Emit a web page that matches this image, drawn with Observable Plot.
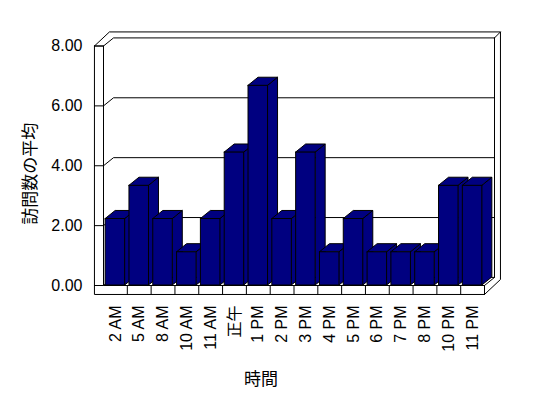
<!DOCTYPE html>
<html>
<head>
<meta charset="utf-8">
<script src="https://cdn.jsdelivr.net/npm/d3@7"></script>
<script src="https://cdn.jsdelivr.net/npm/@observablehq/plot@0.6"></script>
<style>
  html, body { margin: 0; padding: 0; background: #fff; }
</style>
</head>
<body>
<div id="chart"></div>
<script>
// ---- data ----
const categories = ["2 AM","5 AM","8 AM","10 AM","11 AM","正午","1 PM","2 PM","3 PM","4 PM","5 PM","6 PM","7 PM","8 PM","10 PM","11 PM"];
const values = [2.22,3.33,2.22,1.11,2.22,4.44,6.67,2.22,4.44,1.11,2.22,1.11,1.11,1.11,3.33,3.33];
const yTicks = [0, 2, 4, 6, 8];
const xTitle = "時間";
const yTitle = "訪問数の平均";

// ---- 3D look (data units) ----
const n = categories.length;
const yMax = yTicks[yTicks.length - 1];
const DU = 0.42, DV = 0.27;   // depth of the box
const TU = 0.38, TV = 0.30;   // wall / floor thickness
const OU = 0.67, OV = 0.47;   // outer back edge of the walls
const INSET = 0.09;

const bars = values.map((v, i) => ({ i, v, x1: i + INSET, x2: i + 1 - INSET }));
const tops = bars.flatMap(b => [
  { id: b.i, y: b.v, x1: b.x1, x2: b.x2 },
  { id: b.i, y: b.v + DV, x1: b.x1 + DU, x2: b.x2 + DU }
]);
const sides = bars.flatMap(b => [
  { id: b.i, x: b.x2, y1: 0, y2: b.v },
  { id: b.i, x: b.x2 + DU, y1: DV, y2: b.v + DV }
]);

const segs = [];
const path = (id, pts) => pts.forEach(([x, y]) => segs.push({ id, x, y }));
// back wall grid lines + ticks
yTicks.forEach(v => path("g" + v, [[-TU, v], [0, v], [DU, v + DV], [n + DU, v + DV]]));
// right inner edge of the box
path("ri", [[n + DU, yMax + DV], [n + DU, DV], [n, 0]]);
// outer walls
path("out", [[-TU, yMax], [OU - TU - 0.04, yMax + OV], [n + OU, yMax + OV], [n + OU, DV - 0.07], [n, -TV]]);
path("tr", [[n + DU, yMax + DV], [n + OU, yMax + OV]]);
const front = [];
const fpath = (id, pts) => pts.forEach(([x, y]) => front.push({ id, x, y }));
fpath("oL", [[-TU, yMax], [-TU, -TV], [n, -TV], [n, 0]]);
fpath("iL", [[0, yMax], [0, 0], [n, 0]]);
fpath("st", [[-TU, yMax], [0, yMax]]);
for (let i = 1; i <= n; i++) fpath("t" + i, [[i, 0], [i, -TV]]);

const navy = "#000080";
const chart = Plot.plot({
  width: 548,
  height: 398,
  marginLeft: 103,
  marginRight: 64,
  marginTop: 45.5,
  marginBottom: 113,
  x: { type: "linear", domain: [0, n] },
  y: { domain: [0, yMax] },
  style: { fontFamily: "'Liberation Sans', Arial, 'Noto Sans CJK JP', sans-serif", fontSize: "16px", background: "#fff", color: "#000" },
  marks: [
    Plot.line(segs, { x: "x", y: "y", z: "id", stroke: "#000", strokeWidth: 1 }),
    Plot.areaY(sides, { x: "x", y1: "y1", y2: "y2", z: "id", fill: navy, stroke: "#000", strokeWidth: 1 }),
    Plot.areaX(tops, { y: "y", x1: "x1", x2: "x2", z: "id", fill: navy, stroke: "#000", strokeWidth: 1 }),
    Plot.rect(bars, { x1: "x1", x2: "x2", y1: 0, y2: "v", fill: navy, stroke: "#000", strokeWidth: 1 }),
    Plot.line(front, { x: "x", y: "y", z: "id", stroke: "#000", strokeWidth: 1 }),
    Plot.axisY(yTicks, { tickFormat: d3.format(".2f"), tickSize: 0, tickPadding: 21, fontSize: 16, label: null }),
    Plot.axisX(categories.map((c, i) => i + 0.5), {
      tickFormat: d => categories[Math.round(d - 0.5)],
      tickRotate: -90, tickSize: 0, tickPadding: 20, fontSize: 16, label: null
    }),
    Plot.text([xTitle], { text: d => d, frameAnchor: "bottom", dx: -33, dy: 99, fontSize: 17, fontFamily: "'Noto Sans CJK JP', sans-serif" }),
    Plot.text([yTitle], { text: d => d, frameAnchor: "left", textAnchor: "middle", rotate: -90, dx: -73, dy: 8, fontSize: 17, fontFamily: "'Noto Sans CJK JP', sans-serif" })
  ]
});
document.getElementById("chart").appendChild(chart);
</script>
</body>
</html>
